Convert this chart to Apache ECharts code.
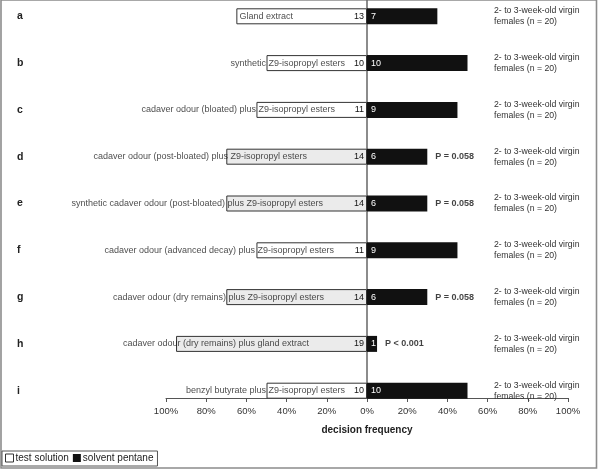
<!DOCTYPE html>
<html>
<head>
<meta charset="utf-8">
<script src="https://cdn.jsdelivr.net/npm/echarts@6/dist/echarts.min.js"></script>
<style>
html,body{margin:0;padding:0;background:#fff;}
#chart{width:600px;height:472px;}
</style>
</head>
<body>
<div id="chart"></div>
<script>
// ---- data ----
var rowLetters = ['a','b','c','d','e','f','g','h','i'];
var descriptions = [
  'Gland extract',
  'synthetic Z9-isopropyl esters',
  'cadaver odour (bloated) plus Z9-isopropyl esters',
  'cadaver odour (post-bloated) plus Z9-isopropyl esters',
  'synthetic cadaver odour (post-bloated) plus Z9-isopropyl esters',
  'cadaver odour (advanced decay) plus Z9-isopropyl esters',
  'cadaver odour (dry remains) plus Z9-isopropyl esters',
  'cadaver odour (dry remains) plus gland extract',
  'benzyl butyrate plus Z9-isopropyl esters'
];
var testCounts    = [13, 10, 11, 14, 14, 11, 14, 19, 10];
var pentaneCounts = [7, 10, 9, 6, 6, 9, 6, 1, 10];
var totalN = 20;
var pValues = ['', '', '', 'P = 0.058', 'P = 0.058', '', 'P = 0.058', 'P < 0.001', ''];
var subjects = [
  '2- to 3-week-old virgin\nfemales (n = 20)',
  '2- to 3-week-old virgin\nfemales (n = 20)',
  '2- to 3-week-old virgin\nfemales (n = 20)',
  '2- to 3-week-old virgin\nfemales (n = 20)',
  '2- to 3-week-old virgin\nfemales (n = 20)',
  '2- to 3-week-old virgin\nfemales (n = 20)',
  '2- to 3-week-old virgin\nfemales (n = 20)',
  '2- to 3-week-old virgin\nfemales (n = 20)',
  '2- to 3-week-old virgin\nfemales (n = 20)'
];
var seriesNames = ['test solution', 'solvent pentane'];
var axisTitle = 'decision frequency';

// ---- layout / style (not data) ----
var descGapPx = [74, 22, 32, 60, 44, 33, 43, 58, 22]; // gap from 0% line to end of description text
var FONT = '"Liberation Sans", Arial, sans-serif';

var chart = echarts.init(document.getElementById('chart'), null, {renderer: 'canvas'});

var testData = testCounts.map(function (c, i) {
  return {
    value: -c / totalN * 100,
    itemStyle: { color: pValues[i] ? '#ebebeb' : '#ffffff' }
  };
});
var pentData = pentaneCounts.map(function (c) { return c / totalN * 100; });

var descData = descriptions.map(function (d, i) {
  return { value: [0, i], label: { distance: descGapPx[i] } };
});
var pData = [];
pValues.forEach(function (p, i) {
  if (p) pData.push({ value: [pentaneCounts[i] / totalN * 100, i], name: p });
});

var option = {
  animation: false,
  backgroundColor: '#ffffff',
  textStyle: { fontFamily: FONT },
  graphic: [{
    type: 'rect',
    shape: { x: 1, y: 0, width: 595.5, height: 468 },
    style: { fill: 'none', stroke: '#8c8c8c', lineWidth: 1.6 },
    z: -1
  }],
  legend: {
    left: 2, top: 451,
    padding: [2, 4, 3, 3],
    itemWidth: 8, itemHeight: 8, itemGap: 4,
    icon: 'rect',
    borderColor: '#555', borderWidth: 1,
    textStyle: { fontSize: 10, color: '#222', fontFamily: FONT, padding: [0, 0, 0, -3] },
    data: [
      { name: seriesNames[0], itemStyle: { color: '#fff', borderColor: '#333', borderWidth: 1 } },
      { name: seriesNames[1], itemStyle: { color: '#111' } }
    ]
  },
  grid: [
    { left: 166, width: 402, top: -7.1, height: 421.2, outerBoundsMode: 'none', containLabel: false },
    { left: 166, width: 402, top: 0, height: 398, outerBoundsMode: 'none', containLabel: false }
  ],
  xAxis: [
    { type: 'value', gridIndex: 0, min: -100, max: 100, show: false },
    {
      type: 'value', gridIndex: 1, min: -100, max: 100, interval: 20,
      axisLine: { show: true, onZero: false, lineStyle: { color: '#555', width: 1 } },
      axisTick: { show: true, length: 4, lineStyle: { color: '#555' } },
      axisLabel: {
        fontSize: 9.5, color: '#333', margin: 8, fontFamily: FONT,
        formatter: function (v) { return Math.abs(v) + '%'; }
      },
      splitLine: { show: false },
      name: axisTitle, nameLocation: 'middle', nameGap: 27,
      nameTextStyle: { fontSize: 10, fontWeight: 'bold', color: '#222', fontFamily: FONT }
    }
  ],
  yAxis: [
    {
      type: 'category', gridIndex: 0, inverse: true, data: rowLetters, position: 'left',
      axisLine: { show: false, onZero: false }, axisTick: { show: false },
      axisLabel: { align: 'left', margin: 149, fontSize: 10.5, fontWeight: 'bold', color: '#222', fontFamily: FONT }
    },
    {
      type: 'category', gridIndex: 0, inverse: true, data: subjects, position: 'right', offset: -74,
      axisLine: { show: false, onZero: false }, axisTick: { show: false },
      axisLabel: { align: 'left', margin: 0, fontSize: 8.7, lineHeight: 11, color: '#333', fontFamily: FONT }
    },
    {
      type: 'value', gridIndex: 1, min: 0, max: 1,
      axisLine: { show: true, onZero: true, lineStyle: { color: '#666', width: 1.5 } },
      axisTick: { show: false }, axisLabel: { show: false }, splitLine: { show: false }
    }
  ],
  series: [
    {
      name: seriesNames[0], type: 'bar', xAxisIndex: 0, yAxisIndex: 0, stack: 'freq',
      barWidth: 16, data: testData,
      itemStyle: { color: '#fff', borderColor: '#333', borderWidth: 1 },
      label: {
        show: true, position: 'insideRight', distance: 3,
        fontSize: 9, color: '#111', fontFamily: FONT,
        formatter: function (p) { return testCounts[p.dataIndex]; }
      }
    },
    {
      name: seriesNames[1], type: 'bar', xAxisIndex: 0, yAxisIndex: 0, stack: 'freq',
      barWidth: 16, data: pentData,
      itemStyle: { color: '#111' },
      label: {
        show: true, position: 'insideLeft', distance: 4,
        fontSize: 9, color: '#fff', fontFamily: FONT,
        formatter: function (p) { return pentaneCounts[p.dataIndex]; }
      }
    },
    {
      name: 'descriptions', type: 'scatter', xAxisIndex: 0, yAxisIndex: 0,
      symbolSize: 0, data: descData, z: 5, silent: true,
      label: {
        show: true, position: 'left', fontSize: 9, color: '#1a1a1a', fontFamily: FONT,
        formatter: function (p) { return descriptions[p.dataIndex]; }
      }
    },
    {
      name: 'pvalues', type: 'scatter', xAxisIndex: 0, yAxisIndex: 0,
      symbolSize: 0, data: pData, z: 5, silent: true,
      label: {
        show: true, position: 'right', distance: 8, fontSize: 9, fontWeight: 'bold',
        color: '#111', fontFamily: FONT,
        formatter: function (p) { return p.name; }
      }
    }
  ]
};
chart.setOption(option);
</script>
</body>
</html>
